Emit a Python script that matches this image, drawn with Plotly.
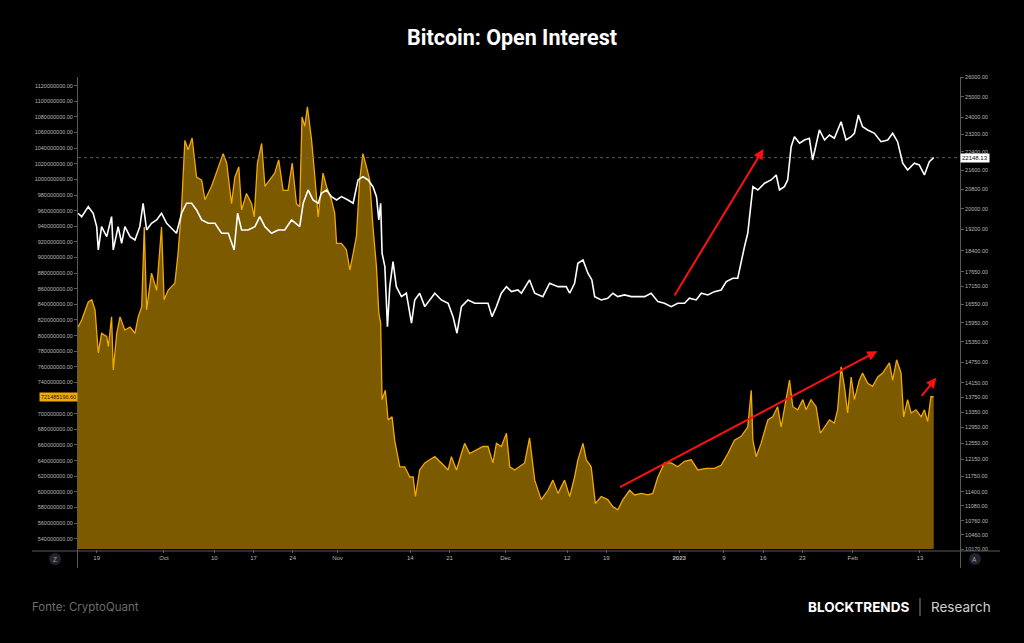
import math
import plotly.graph_objects as go

# ---------------- data ----------------
oi_dates = [
    "2022-09-15 16:00", "2022-09-16 08:00", "2022-09-17 12:00", "2022-09-18 03:00", "2022-09-18 17:00",
    "2022-09-19 07:00", "2022-09-19 21:00", "2022-09-20 19:00", "2022-09-21 02:00", "2022-09-21 16:00",
    "2022-09-21 23:00", "2022-09-22 14:00", "2022-09-23 04:00", "2022-09-24 01:00", "2022-09-24 23:00",
    "2022-09-25 20:00", "2022-09-26 10:00", "2022-09-27 01:00", "2022-09-27 12:00", "2022-09-27 22:00",
    "2022-09-28 19:00", "2022-09-29 17:00", "2022-09-30 14:00", "2022-10-01 01:00", "2022-10-01 18:00",
    "2022-10-02 23:00", "2022-10-03 13:00", "2022-10-04 04:00", "2022-10-04 18:00", "2022-10-05 08:00",
    "2022-10-06 01:00", "2022-10-06 20:00", "2022-10-07 18:00", "2022-10-08 08:00", "2022-10-09 12:00",
    "2022-10-10 17:00", "2022-10-11 14:00", "2022-10-12 05:00", "2022-10-13 02:00", "2022-10-13 16:00",
    "2022-10-14 09:00", "2022-10-14 21:00", "2022-10-15 18:00", "2022-10-16 16:00", "2022-10-17 03:00",
    "2022-10-17 17:00", "2022-10-18 11:00", "2022-10-19 01:00", "2022-10-19 22:00", "2022-10-20 19:00",
    "2022-10-21 12:00", "2022-10-22 07:00", "2022-10-23 04:00", "2022-10-23 22:00", "2022-10-24 16:00",
    "2022-10-25 06:00", "2022-10-25 16:00", "2022-10-26 04:00", "2022-10-26 15:00", "2022-10-27 09:00",
    "2022-10-27 23:00", "2022-10-28 13:00", "2022-10-29 10:00", "2022-10-30 01:00", "2022-10-30 22:00",
    "2022-10-31 12:00", "2022-10-31 20:00", "2022-11-01 17:00", "2022-11-02 14:00", "2022-11-03 05:00",
    "2022-11-03 19:00", "2022-11-04 09:00", "2022-11-04 23:00", "2022-11-05 13:00", "2022-11-06 04:00",
    "2022-11-06 18:00", "2022-11-07 08:00", "2022-11-07 23:00", "2022-11-08 09:00", "2022-11-08 17:00",
    "2022-11-08 23:00", "2022-11-09 13:00", "2022-11-10 01:00", "2022-11-10 18:00", "2022-11-11 05:00",
    "2022-11-12 03:00", "2022-11-13 00:00", "2022-11-13 22:00", "2022-11-14 12:00", "2022-11-14 22:00",
    "2022-11-15 16:00", "2022-11-16 14:00", "2022-11-17 11:00", "2022-11-18 09:00", "2022-11-19 13:00",
    "2022-11-20 18:00", "2022-11-21 08:00", "2022-11-22 06:00", "2022-11-23 03:00", "2022-11-23 17:00",
    "2022-11-24 14:00", "2022-11-25 19:00", "2022-11-26 23:00", "2022-11-27 21:00", "2022-11-28 18:00",
    "2022-11-29 09:00", "2022-11-30 06:00", "2022-12-01 04:00", "2022-12-01 18:00", "2022-12-02 15:00",
    "2022-12-03 12:00", "2022-12-04 10:00", "2022-12-05 07:00", "2022-12-06 05:00", "2022-12-07 09:00",
    "2022-12-08 14:00", "2022-12-09 11:00", "2022-12-10 09:00", "2022-12-11 13:00", "2022-12-12 11:00",
    "2022-12-13 08:00", "2022-12-13 22:00", "2022-12-14 20:00", "2022-12-15 10:00", "2022-12-16 07:00",
    "2022-12-17 01:00", "2022-12-18 02:00", "2022-12-19 06:00", "2022-12-20 04:00", "2022-12-21 01:00",
    "2022-12-21 23:00", "2022-12-23 04:00", "2022-12-24 01:00", "2022-12-25 06:00", "2022-12-26 10:00",
    "2022-12-27 07:00", "2022-12-28 05:00", "2022-12-29 09:00", "2022-12-30 14:00", "2022-12-31 18:00",
    "2023-01-01 23:00", "2023-01-03 04:00", "2023-01-04 08:00", "2023-01-05 20:00", "2023-01-07 07:00",
    "2023-01-08 12:00", "2023-01-09 17:00", "2023-01-10 21:00", "2023-01-12 02:00", "2023-01-13 06:00",
    "2023-01-13 21:00", "2023-01-14 04:00", "2023-01-14 18:00", "2023-01-15 15:00", "2023-01-16 20:00",
    "2023-01-17 17:00", "2023-01-18 14:00", "2023-01-19 05:00", "2023-01-20 02:00", "2023-01-20 17:00",
    "2023-01-21 07:00", "2023-01-22 04:00", "2023-01-23 02:00", "2023-01-23 16:00", "2023-01-24 13:00",
    "2023-01-25 11:00", "2023-01-26 05:00", "2023-01-26 23:00", "2023-01-27 20:00", "2023-01-28 17:00",
    "2023-01-29 07:00", "2023-01-29 22:00", "2023-01-30 12:00", "2023-01-31 02:00", "2023-01-31 17:00",
    "2023-02-01 07:00", "2023-02-02 04:00", "2023-02-02 18:00", "2023-02-03 16:00", "2023-02-04 13:00",
    "2023-02-05 11:00", "2023-02-06 08:00", "2023-02-07 13:00", "2023-02-08 03:00", "2023-02-08 20:00",
    "2023-02-09 15:00", "2023-02-10 02:00", "2023-02-10 19:00", "2023-02-11 10:00", "2023-02-12 07:00",
    "2023-02-13 05:00", "2023-02-13 19:00", "2023-02-14 09:00", "2023-02-14 23:00", "2023-02-15 11:00",
]
# open interest, millions of USD
oi_musd = [
    811, 820, 843, 846, 833, 778, 803, 799, 786, 824,
    756, 803, 824, 807, 811, 803, 824, 837, 939, 833,
    880, 858, 939, 846, 858, 867, 906, 965, 1050, 1038,
    1053, 1003, 999, 974, 991, 1016, 1033, 1021, 969, 1003,
    1016, 961, 982, 969, 952, 1021, 1046, 991, 999, 1008,
    1025, 986, 986, 1021, 969, 965, 1080, 1068, 1093, 1050,
    1003, 952, 1008, 991, 974, 957, 918, 918, 910, 884,
    905, 927, 999, 1033, 1016, 999, 939, 888, 829, 816,
    718, 730, 692, 696, 666, 632, 632, 619, 619, 594,
    628, 637, 641, 645, 637, 628, 645, 628, 649, 662,
    649, 654, 658, 658, 637, 662, 658, 675, 632, 628,
    632, 637, 669, 615, 590, 602, 615, 598, 615, 594,
    619, 641, 662, 641, 632, 585, 594, 590, 581, 577,
    590, 602, 596, 598, 596, 598, 619, 637, 637, 632,
    639, 641, 628, 630, 630, 634, 649, 666, 671, 683,
    730, 666, 645, 662, 692, 696, 709, 683, 718, 743,
    709, 705, 718, 705, 718, 709, 675, 683, 692, 688,
    705, 760, 735, 701, 747, 718, 743, 752, 739, 735,
    747, 752, 765, 743, 769, 752, 696, 718, 701, 705,
    696, 705, 690, 722, 721.48519660,
]

price_dates = [
    "2022-09-15 16:00", "2022-09-16 08:00", "2022-09-17 12:00", "2022-09-18 09:00", "2022-09-19 00:00",
    "2022-09-19 07:00", "2022-09-19 21:00", "2022-09-20 19:00", "2022-09-21 16:00", "2022-09-21 23:00",
    "2022-09-22 20:00", "2022-09-23 11:00", "2022-09-24 01:00", "2022-09-24 23:00", "2022-09-25 20:00",
    "2022-09-26 17:00", "2022-09-27 07:00", "2022-09-27 22:00", "2022-09-28 19:00", "2022-09-29 17:00",
    "2022-09-30 14:00", "2022-10-01 12:00", "2022-10-02 16:00", "2022-10-03 06:00", "2022-10-04 04:00",
    "2022-10-05 01:00", "2022-10-05 23:00", "2022-10-06 20:00", "2022-10-07 18:00", "2022-10-08 22:00",
    "2022-10-10 03:00", "2022-10-11 07:00", "2022-10-12 12:00", "2022-10-13 13:00", "2022-10-14 04:00",
    "2022-10-14 21:00", "2022-10-16 01:00", "2022-10-17 06:00", "2022-10-18 03:00", "2022-10-19 01:00",
    "2022-10-20 05:00", "2022-10-21 10:00", "2022-10-22 14:00", "2022-10-23 19:00", "2022-10-25 06:00",
    "2022-10-25 21:00", "2022-10-26 18:00", "2022-10-27 15:00", "2022-10-28 13:00", "2022-10-29 03:00",
    "2022-10-30 01:00", "2022-10-30 22:00", "2022-10-31 20:00", "2022-11-01 17:00", "2022-11-02 21:00",
    "2022-11-03 19:00", "2022-11-04 16:00", "2022-11-05 13:00", "2022-11-06 11:00", "2022-11-07 08:00",
    "2022-11-07 23:00", "2022-11-08 09:00", "2022-11-08 17:00", "2022-11-08 23:00", "2022-11-09 11:00",
    "2022-11-09 22:00", "2022-11-10 08:00", "2022-11-10 22:00", "2022-11-11 12:00", "2022-11-12 10:00",
    "2022-11-13 07:00", "2022-11-14 05:00", "2022-11-14 19:00", "2022-11-15 16:00", "2022-11-16 14:00",
    "2022-11-17 11:00", "2022-11-18 09:00", "2022-11-19 13:00", "2022-11-20 18:00", "2022-11-21 15:00",
    "2022-11-22 08:00", "2022-11-23 03:00", "2022-11-24 07:00", "2022-11-25 12:00", "2022-11-26 17:00",
    "2022-11-27 21:00", "2022-11-28 14:00", "2022-11-29 09:00", "2022-11-30 06:00", "2022-12-01 04:00",
    "2022-12-02 01:00", "2022-12-03 05:00", "2022-12-03 20:00", "2022-12-05 07:00", "2022-12-06 05:00",
    "2022-12-07 16:00", "2022-12-08 21:00", "2022-12-10 09:00", "2022-12-11 20:00", "2022-12-12 11:00",
    "2022-12-13 08:00", "2022-12-13 22:00", "2022-12-14 20:00", "2022-12-15 17:00", "2022-12-16 10:00",
    "2022-12-16 22:00", "2022-12-18 02:00", "2022-12-19 06:00", "2022-12-20 04:00", "2022-12-21 01:00",
    "2022-12-22 06:00", "2022-12-23 11:00", "2022-12-24 15:00", "2022-12-25 20:00", "2022-12-27 00:00",
    "2022-12-28 05:00", "2022-12-29 09:00", "2022-12-30 14:00", "2022-12-31 18:00", "2023-01-01 23:00",
    "2023-01-02 20:00", "2023-01-04 01:00", "2023-01-04 23:00", "2023-01-06 03:00", "2023-01-07 07:00",
    "2023-01-08 12:00", "2023-01-09 10:00", "2023-01-10 14:00", "2023-01-11 11:00", "2023-01-12 02:00",
    "2023-01-12 16:00", "2023-01-13 06:00", "2023-01-13 21:00", "2023-01-14 04:00", "2023-01-15 01:00",
    "2023-01-16 06:00", "2023-01-17 10:00", "2023-01-18 08:00", "2023-01-18 22:00", "2023-01-19 19:00",
    "2023-01-20 09:00", "2023-01-21 00:00", "2023-01-21 14:00", "2023-01-22 12:00", "2023-01-23 09:00",
    "2023-01-24 06:00", "2023-01-24 20:00", "2023-01-25 11:00", "2023-01-26 01:00", "2023-01-26 23:00",
    "2023-01-27 20:00", "2023-01-28 17:00", "2023-01-29 22:00", "2023-01-30 19:00", "2023-01-31 17:00",
    "2023-02-01 07:00", "2023-02-02 00:00", "2023-02-02 18:00", "2023-02-03 16:00", "2023-02-04 21:00",
    "2023-02-06 01:00", "2023-02-07 06:00", "2023-02-08 03:00", "2023-02-09 00:00", "2023-02-09 22:00",
    "2023-02-10 19:00", "2023-02-12 00:00", "2023-02-12 21:00", "2023-02-13 19:00", "2023-02-14 16:00",
    "2023-02-15 06:00", "2023-02-15 11:00",
]
price_usd = [
    19828, 19695, 20090, 19828, 19307, 18433, 19307, 18927, 19695, 18433,
    19307, 18680, 19307, 18927, 18803, 19307, 20227, 19181, 19438, 19566,
    19828, 19438, 19181, 19055, 19828, 20227, 20227, 19959, 19566, 19438,
    19438, 19055, 19055, 18433, 19828, 19181, 19181, 19307, 19695, 19307,
    19055, 19181, 19181, 19566, 19307, 20227, 20769, 20360, 20227, 20633,
    20769, 20494, 20360, 20494, 20360, 20227, 21186, 21325, 21186, 20905,
    20494, 19566, 20227, 18313, 17831, 15826, 17136, 18009, 17136, 16799,
    16913, 15934, 16689, 16913, 16468, 16689, 16913, 16689, 16580, 16144,
    15620, 16468, 16689, 16580, 16580, 16580, 16144, 16468, 16913, 17136,
    16967, 17024, 16913, 17366, 16913, 16799, 17252, 17136, 17136, 16913,
    17252, 17952, 18070, 17599, 17366, 16799, 16689, 16746, 16913, 16799,
    16856, 16799, 16799, 16799, 16913, 16633, 16580, 16468, 16580, 16580,
    16746, 16689, 16913, 16856, 16967, 17024, 17307, 17425, 17425, 18070,
    18554, 19055, 20360, 20905, 20769, 21047, 21186, 21397, 20769, 20905,
    21186, 22636, 23090, 22789, 22939, 23017, 22045, 22789, 23400, 22939,
    23169, 23017, 23789, 22939, 23090, 23247, 24108, 23554, 23400, 23247,
    22862, 22939, 23247, 22862, 21901, 21611, 21901, 21827, 21397, 21970,
    22120, 22148.13,
]

x_tick_dates = ["2022-09-19", "2022-10-01", "2022-10-10", "2022-10-17", "2022-10-24", "2022-11-01",
                "2022-11-14", "2022-11-21", "2022-12-01", "2022-12-12", "2022-12-19", "2023-01-01",
                "2023-01-09", "2023-01-16", "2023-01-23", "2023-02-01", "2023-02-13"]
x_tick_text = ["19", "Oct", "10", "17", "24", "Nov", "14", "21", "Dec", "12", "19", "<b>2023</b>",
               "9", "16", "23", "Feb", "13"]

oi_tick_musd = [540, 560, 580, 600, 620, 640, 660, 680, 700, 740, 760, 780, 800, 820, 840, 860, 880,
                900, 920, 940, 960, 980, 1000, 1020, 1040, 1060, 1080, 1100, 1120]
price_ticks = [10170, 10460, 10760, 11080, 11400, 11750, 12150, 12550, 12950, 13350, 13750, 14150,
               14750, 15350, 15950, 16550, 17150, 17650, 18400, 19200, 20000, 20800, 21600, 22400,
               23200, 24000, 25000, 26000]

# trend arrows: (tail date, tail value, head date, head value)
price_arrow = ("2022-12-31 00:00", 16790, "2023-01-16 01:00", 22530)
oi_arrows = [("2022-12-21 04:00", 605, "2023-02-05 09:00", 780),
             ("2023-02-13 02:00", 721, "2023-02-15 22:00", 746)]

# ---------------- figure ----------------
oi = [v * 1e6 for v in oi_musd]
oi_ticks = [v * 1e6 for v in oi_tick_musd]
last_oi = oi[-1]
last_price = price_usd[-1]

BG = "#000000"
ORANGE = "#f2a900"
FILL = "#7b5a00"
AXC = "#5a5a5a"
TXT = "#b8b8b8"
FONT = "Liberation Sans, Arial, sans-serif"
X_RANGE = ["2022-09-15 16:00", "2023-02-20 03:30"]

fig = go.Figure()
fig.add_trace(go.Scatter(x=oi_dates, y=oi, mode="lines", line=dict(color=ORANGE, width=1.3),
                         fill="tozeroy", fillcolor=FILL, yaxis="y", hoverinfo="skip",
                         showlegend=False))
fig.add_trace(go.Scatter(x=X_RANGE, y=[last_price, last_price], mode="lines",
                         line=dict(color="#6e6e6e", width=0.8, dash="dot"), yaxis="y2",
                         hoverinfo="skip", showlegend=False))
fig.add_trace(go.Scatter(x=price_dates, y=price_usd, mode="lines", line=dict(color="#ffffff", width=1.6),
                         yaxis="y2", hoverinfo="skip", showlegend=False))

L, R, T, B = 78, 960, 77, 549
W, H = R - L, B - T


def px(xp):
    return (xp - L) / W


def py(yp):
    return (B - yp) / H


fig.update_layout(
    width=1024, height=643,
    margin=dict(l=L, r=1024 - R, t=T, b=643 - B),
    paper_bgcolor=BG, plot_bgcolor=BG,
    font=dict(family=FONT, color=TXT),
    title=dict(text="<b>Bitcoin: Open Interest</b>", x=0.5, xanchor="center", y=1 - 37 / 643,
               yanchor="middle", font=dict(family="Roboto, Inter, sans-serif", size=21.5, color="#ffffff")),
    xaxis=dict(type="date", range=X_RANGE, showgrid=False, zeroline=False, showline=False,
               tickmode="array", tickvals=x_tick_dates, ticktext=x_tick_text,
               ticks="outside", ticklen=3, tickcolor=AXC, tickfont=dict(size=6, color=TXT)),
    yaxis=dict(range=[526.8e6, 1131.1e6], showgrid=False, zeroline=False, showline=False,
               tickmode="array", tickvals=oi_ticks, ticktext=[f"{v:.2f}" for v in oi_ticks],
               ticks="outside", ticklen=3, tickcolor=AXC, tickfont=dict(size=5.5, color=TXT)),
    yaxis2=dict(type="log", overlaying="y", side="right",
                range=[math.log10(10170), math.log10(26000)], showgrid=False, zeroline=False,
                showline=False, tickmode="array", tickvals=price_ticks,
                ticktext=[f"{v:.2f}" for v in price_ticks],
                ticks="outside", ticklen=3, tickcolor=AXC, tickfont=dict(size=5.5, color=TXT)),
    hovermode=False,
)

shapes = [
    # extended axis lines
    dict(type="line", xref="paper", yref="paper", x0=px(32), x1=px(1000), y0=py(551), y1=py(551),
         line=dict(color=AXC, width=1)),
    dict(type="line", xref="paper", yref="paper", x0=px(77.5), x1=px(77.5), y0=py(568), y1=1,
         line=dict(color=AXC, width=1)),
    dict(type="line", xref="paper", yref="paper", x0=px(960.5), x1=px(960.5), y0=py(568), y1=1,
         line=dict(color=AXC, width=1)),
    # small round buttons
    dict(type="circle", xref="paper", yref="paper", x0=px(49), x1=px(61), y0=py(565), y1=py(553),
         fillcolor="#23232e", line=dict(width=0), layer="below"),
    dict(type="circle", xref="paper", yref="paper", x0=px(969), x1=px(981), y0=py(565), y1=py(553),
         fillcolor="#23232e", line=dict(width=0), layer="below"),
    # footer divider
    dict(type="line", xref="paper", yref="paper", x0=px(920), x1=px(920), y0=py(598), y1=py(616),
         line=dict(color="#8a8a8a", width=1)),
]
fig.update_layout(shapes=shapes)

ann = [
    dict(xref="paper", yref="paper", x=px(55), y=py(559), xanchor="center", yanchor="middle",
         text="Z", showarrow=False, font=dict(size=6.5, color="#a0a0a0")),
    dict(xref="paper", yref="paper", x=px(975), y=py(559), xanchor="center", yanchor="middle",
         text="A", showarrow=False, font=dict(size=6.5, color="#a0a0a0")),
    # last-value labels
    dict(xref="paper", yref="y", x=0, y=last_oi, xanchor="right", yanchor="middle",
         text=f"{last_oi:.2f}", showarrow=False, bgcolor=ORANGE, borderpad=1,
         font=dict(size=5.5, color="#1a1a1a")),
    dict(xref="paper", yref="y2", x=1, y=math.log10(last_price), xanchor="left", yanchor="middle",
         text=f"{last_price:.2f}", showarrow=False, bgcolor="#ffffff", borderpad=1,
         font=dict(size=6, color="#111111")),
    # footer
    dict(xref="paper", yref="paper", x=px(30), y=py(607), xanchor="left", yanchor="middle",
         text="Fonte: CryptoQuant", showarrow=False,
         font=dict(family="Inter, sans-serif", size=11.5, color="#6c6c6c")),
    dict(xref="paper", yref="paper", x=px(911), y=py(607), xanchor="right", yanchor="middle",
         text="<b>BLOCKTRENDS</b>", showarrow=False,
         font=dict(family="Inter, sans-serif", size=13.5, color="#ffffff")),
    dict(xref="paper", yref="paper", x=px(929), y=py(607), xanchor="left", yanchor="middle",
         text="Research", showarrow=False,
         font=dict(family="Inter, sans-serif", size=13.5, color="#cfcfcf")),
]

# arrows
x0, y0, x1, y1 = price_arrow
ann.append(dict(xref="x", yref="y2", axref="x", ayref="y2", x=x1, y=math.log10(y1), ax=x0,
                ay=math.log10(y0), text="", showarrow=True, arrowhead=2, arrowsize=1,
                arrowwidth=2, arrowcolor="#ff1010", standoff=0, startstandoff=0))
for (x0, y0, x1, y1) in oi_arrows:
    ann.append(dict(xref="x", yref="y", axref="x", ayref="y", x=x1, y=y1 * 1e6, ax=x0, ay=y0 * 1e6,
                    text="", showarrow=True, arrowhead=2, arrowsize=1, arrowwidth=2,
                    arrowcolor="#ff1010", standoff=0, startstandoff=0))
fig.update_layout(annotations=ann)

fig.write_html("out.html")
